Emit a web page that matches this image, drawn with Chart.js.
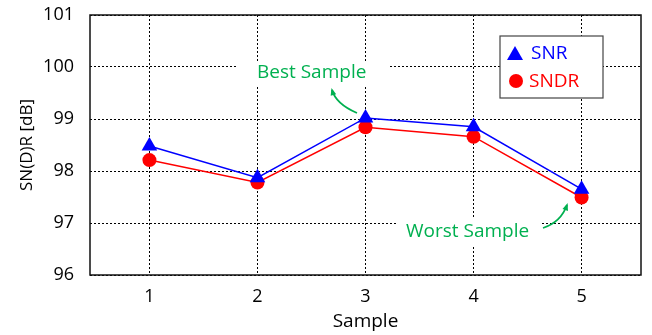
<!DOCTYPE html>
<html>
<head>
<meta charset="utf-8">
<script src="https://cdn.jsdelivr.net/npm/chart.js@4"></script>
<style>
html,body{margin:0;padding:0;background:#fff;}
#wrap{width:652px;height:335px;position:relative;}
</style>
</head>
<body>
<div id="wrap"><canvas id="c" width="652" height="335"></canvas></div>
<script>
const samples = [1, 2, 3, 4, 5];
const snr  = [98.48, 97.87, 99.02, 98.85, 97.65];
const sndr = [98.21, 97.78, 98.84, 98.66, 97.49];
const yTicks = [96, 97, 98, 99, 100, 101];
const seriesNames = ['SNR', 'SNDR'];
const noteBest = 'Best Sample';
const noteWorst = 'Worst Sample';
const xTitle = 'Sample';
const yTitle = 'SN(D)R [dB]';

const FONT = "'Open Sans', 'Noto Sans', sans-serif";
const GREEN = '#00B050';

const pts = (arr) => samples.map((s, i) => ({x: s, y: arr[i]}));

const decor = {
  id: 'decor',
  beforeDatasetsDraw(chart) {
    const {ctx} = chart;
    ctx.save();
    ctx.fillStyle = '#fff';
    ctx.fillRect(238, 62, 152, 24);
    ctx.fillRect(397, 219, 144, 26);
    ctx.restore();
  },
  afterDatasetsDraw(chart) {
    const {ctx, chartArea: a} = chart;
    ctx.save();
    // border
    ctx.strokeStyle = '#111';
    ctx.lineWidth = 1.5;
    ctx.strokeRect(a.left, a.top, a.right - a.left, a.bottom - a.top);

    // annotations
    ctx.fillStyle = GREEN;
    ctx.font = "19px " + FONT;
    ctx.textBaseline = 'middle';
    ctx.textAlign = 'left';
    ctx.fillText(noteBest, 257, 73);
    ctx.fillText(noteWorst, 406, 232);

    const arrow = (x0, y0, cx, cy, x1, y1) => {
      ctx.strokeStyle = GREEN;
      ctx.lineWidth = 1.8;
      ctx.beginPath();
      ctx.moveTo(x0, y0);
      ctx.quadraticCurveTo(cx, cy, x1, y1);
      ctx.stroke();
      const ang = Math.atan2(y1 - cy, x1 - cx);
      const L = 6;
      ctx.beginPath();
      ctx.moveTo(x1 + Math.cos(ang) * 2, y1 + Math.sin(ang) * 2);
      ctx.lineTo(x1 - L * Math.cos(ang - 0.5), y1 - L * Math.sin(ang - 0.5));
      ctx.lineTo(x1 - L * Math.cos(ang + 0.5), y1 - L * Math.sin(ang + 0.5));
      ctx.closePath();
      ctx.fillStyle = GREEN;
      ctx.fill();
    };
    arrow(357, 113, 336, 104, 332, 90);
    arrow(543, 228, 561, 222, 567, 205);

    // legend
    const lx = 500, ly = 36, lw = 103, lh = 62;
    ctx.fillStyle = '#fff';
    ctx.fillRect(lx, ly, lw, lh);
    ctx.strokeStyle = '#444';
    ctx.lineWidth = 1.2;
    ctx.strokeRect(lx, ly, lw, lh);
    const ds = chart.data.datasets;
    ctx.font = "19px " + FONT;
    ctx.textAlign = 'left';
    ctx.textBaseline = 'middle';
    // SNR
    ctx.fillStyle = ds[0].borderColor;
    ctx.beginPath();
    ctx.moveTo(515, 46); ctx.lineTo(523, 60); ctx.lineTo(507, 60); ctx.closePath(); ctx.fill();
    ctx.fillText(ds[0].label, 531, 54);
    // SNDR
    ctx.fillStyle = ds[1].borderColor;
    ctx.beginPath();
    ctx.arc(516, 81, 7, 0, Math.PI * 2); ctx.fill();
    ctx.fillText(ds[1].label, 529, 82);
    ctx.restore();
  }
};

new Chart(document.getElementById('c'), {
  type: 'line',
  data: {
    datasets: [
      {label: seriesNames[0], data: pts(snr), borderColor: '#0000FF', backgroundColor: '#0000FF',
       borderWidth: 1.5, pointStyle: 'triangle', pointRadius: 9, pointHoverRadius: 9, pointBorderWidth: 0, tension: 0},
      {label: seriesNames[1], data: pts(sndr), borderColor: '#FF0000', backgroundColor: '#FF0000',
       borderWidth: 1.5, pointStyle: 'circle', pointRadius: 7, pointHoverRadius: 7, pointBorderWidth: 0, tension: 0}
    ]
  },
  options: {
    responsive: false,
    animation: false,
    events: [],
    layout: {padding: {left: 0, top: 15, right: 11, bottom: 2}},
    plugins: {legend: {display: false}, tooltip: {enabled: false}},
    scales: {
      x: {
        type: 'linear',
        min: 0.45, max: 5.55,
        afterBuildTicks: (s) => { s.ticks = samples.map(v => ({value: v})); },
        afterFit: (s) => { s.height = 58; s.paddingLeft = 0; s.paddingRight = 0; },
        grid: {color: '#000', lineWidth: 1, drawTicks: false},
        border: {display: false, dash: [2, 2]},
        ticks: {color: '#000', font: {family: FONT, size: 18}, padding: 11, callback: (v) => String(v)},
        title: {display: true, text: xTitle, color: '#000', font: {family: FONT, size: 19}, padding: {top: 0, bottom: 0}}
      },
      y: {
        min: 96, max: 101,
        afterBuildTicks: (s) => { s.ticks = yTicks.map(v => ({value: v})); },
        afterFit: (s) => { s.width = 90; s.paddingTop = 0; s.paddingBottom = 0; },
        grid: {color: '#000', lineWidth: 1, drawTicks: false},
        border: {display: false, dash: [2, 2]},
        ticks: {color: '#000', font: {family: FONT, size: 18}, padding: 16, callback: (v) => String(v)},
        title: {display: true, text: yTitle, color: '#000', font: {family: FONT, size: 17}, padding: {top: 17, bottom: 4}}
      }
    }
  },
  plugins: [decor]
});
</script>
</body>
</html>
